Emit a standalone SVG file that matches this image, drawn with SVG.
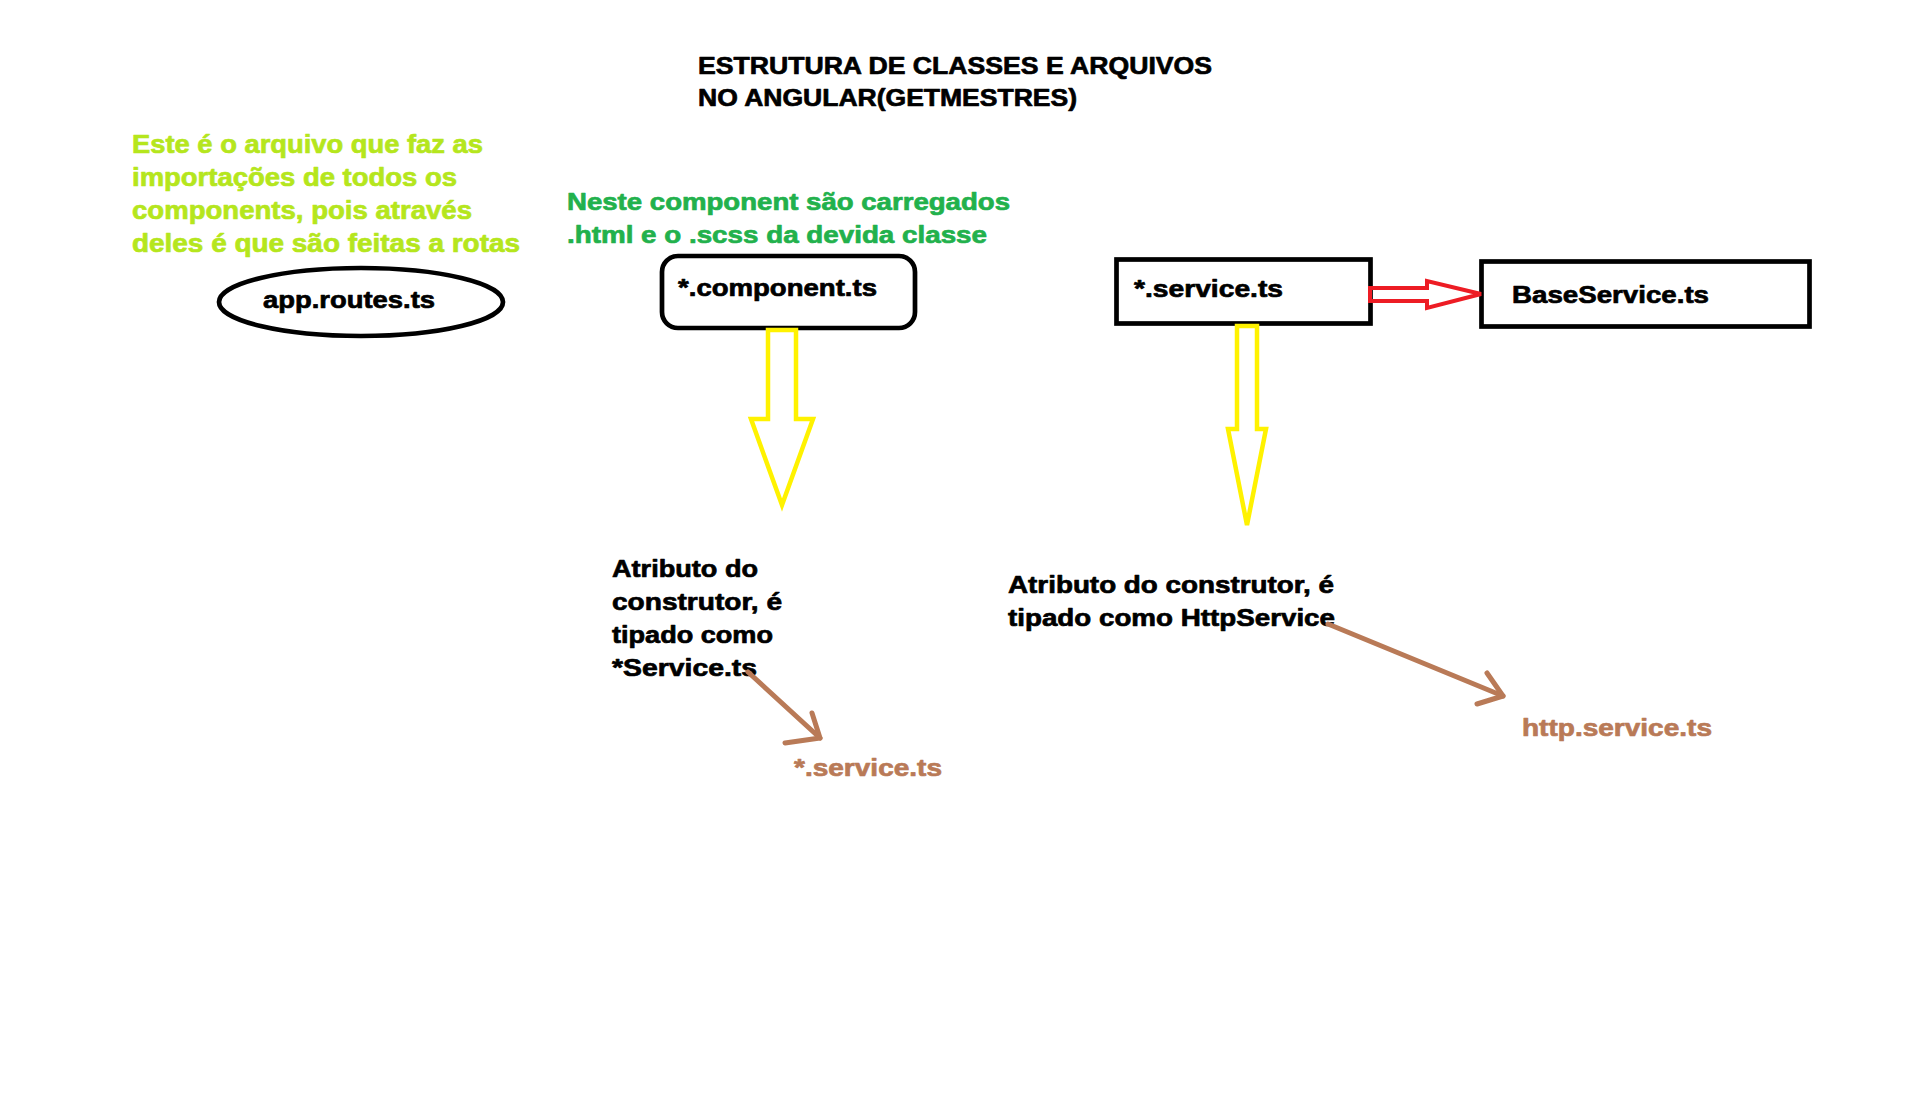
<svg xmlns="http://www.w3.org/2000/svg" width="1914" height="1106" viewBox="0 0 1914 1106">
<style>
text{font-family:"Liberation Sans",Arial,sans-serif;font-weight:bold;stroke-width:0.7;stroke-linejoin:round;}
.t{font-size:24px;fill:#000;stroke:#000;}
.lime{font-size:25px;fill:#b5e61d;stroke:#b5e61d;}
.grn{font-size:24px;fill:#22b14c;stroke:#22b14c;}
.blk{font-size:24px;fill:#000;stroke:#000;}
.brn{font-size:24px;fill:#b97a57;stroke:#b97a57;}
.box{fill:none;stroke:#000;stroke-width:4.7;}
.ya{fill:none;stroke:#fff200;stroke-width:4.5;stroke-linejoin:miter;}
.ra{fill:none;stroke:#ed1c24;stroke-width:4;}
.ba{fill:none;stroke:#b97a57;stroke-width:5;stroke-linecap:round;stroke-linejoin:round;}
</style>
<rect width="1914" height="1106" fill="#fff"/>
<g id="title">
<text class="t" x="698" y="74" textLength="514" lengthAdjust="spacingAndGlyphs">ESTRUTURA DE CLASSES E ARQUIVOS</text>
<text class="t" x="698" y="106" textLength="379" lengthAdjust="spacingAndGlyphs">NO ANGULAR(GETMESTRES)</text>
</g>
<g id="note-routes">
<text class="lime" x="132" y="153" textLength="351" lengthAdjust="spacingAndGlyphs">Este é o arquivo que faz as</text>
<text class="lime" x="132" y="186" textLength="325" lengthAdjust="spacingAndGlyphs">importações de todos os</text>
<text class="lime" x="132" y="219" textLength="340" lengthAdjust="spacingAndGlyphs">components, pois através</text>
<text class="lime" x="132" y="252" textLength="388" lengthAdjust="spacingAndGlyphs">deles é que são feitas a rotas</text>
</g>
<g id="app-routes">
<ellipse cx="361" cy="302" rx="142" ry="34" class="box"/>
<text class="blk" x="263" y="308" textLength="172" lengthAdjust="spacingAndGlyphs">app.routes.ts</text>
</g>
<g id="note-component">
<text class="grn" x="567" y="210" textLength="443" lengthAdjust="spacingAndGlyphs">Neste component são carregados</text>
<text class="grn" x="567" y="243" textLength="420" lengthAdjust="spacingAndGlyphs">.html e o .scss da devida classe</text>
</g>
<g id="component">
<rect x="662" y="256" width="253" height="72" rx="16" class="box"/>
<text class="blk" x="678" y="296" textLength="199" lengthAdjust="spacingAndGlyphs">*.component.ts</text>
</g>
<g id="service">
<rect x="1116.5" y="259.5" width="254" height="64" class="box"/>
<text class="blk" x="1134" y="297" textLength="149" lengthAdjust="spacingAndGlyphs">*.service.ts</text>
</g>
<g id="base-service">
<rect x="1481.5" y="261.5" width="328" height="65" class="box"/>
<text class="blk" x="1512" y="303" textLength="197" lengthAdjust="spacingAndGlyphs">BaseService.ts</text>
</g>
<g id="note-service-left">
<text class="blk" x="612" y="577" textLength="146" lengthAdjust="spacingAndGlyphs">Atributo do</text>
<text class="blk" x="612" y="610" textLength="170" lengthAdjust="spacingAndGlyphs">construtor, é</text>
<text class="blk" x="612" y="643" textLength="161" lengthAdjust="spacingAndGlyphs">tipado como</text>
<text class="blk" x="612" y="676" textLength="145" lengthAdjust="spacingAndGlyphs">*Service.ts</text>
</g>
<g id="service-target">
<text class="brn" x="794" y="776" textLength="148" lengthAdjust="spacingAndGlyphs">*.service.ts</text>
</g>
<g id="note-service-right">
<text class="blk" x="1008" y="593" textLength="326" lengthAdjust="spacingAndGlyphs">Atributo do construtor, é</text>
<text class="blk" x="1008" y="626" textLength="327" lengthAdjust="spacingAndGlyphs">tipado como HttpService</text>
</g>
<g id="http-service">
<text class="brn" x="1522" y="736" textLength="190" lengthAdjust="spacingAndGlyphs">http.service.ts</text>
</g>
<g id="connectors">
<polygon class="ya" points="768,330 796,330 796,419 813,419 782,505 751,419 768,419"/>
<polygon class="ya" points="1237,326 1257,326 1257,429 1266,429 1247,525 1228,429 1237,429"/>
<polygon class="ra" points="1370,288 1427,288 1427,281 1481,294 1427,308 1427,301 1370,301"/>
<polyline class="ba" points="748,672 820,738"/>
<polyline class="ba" points="785,743 820,738 812,713"/>
<polyline class="ba" points="1328,624 1503,696"/>
<polyline class="ba" points="1477,704 1503,696 1487,673"/>
</g>
</svg>
